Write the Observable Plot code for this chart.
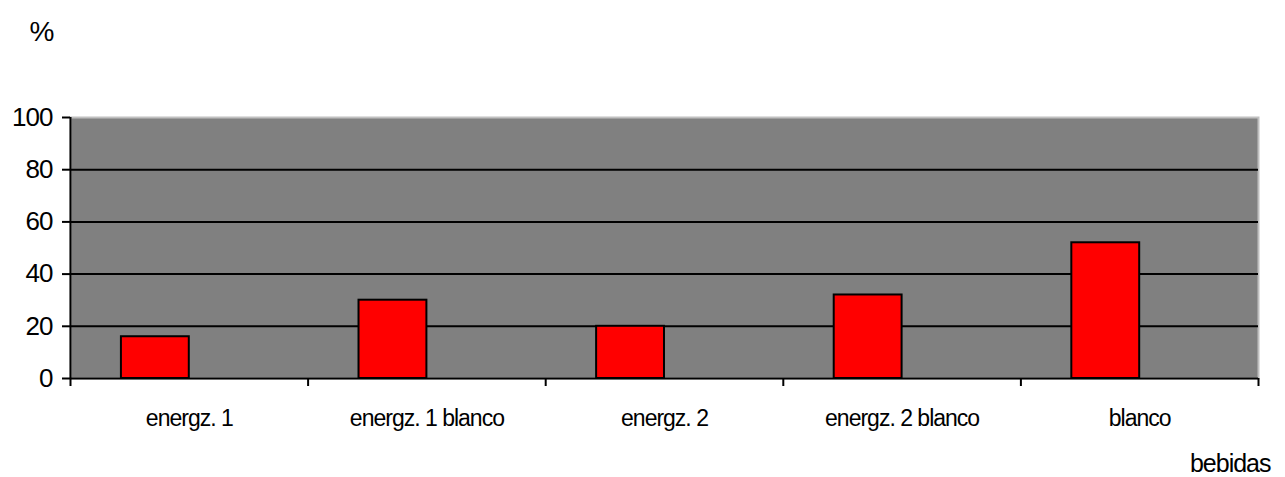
<!DOCTYPE html>
<html>
<head>
<meta charset="utf-8">
<script src="https://cdn.jsdelivr.net/npm/d3@7"></script>
<script src="https://cdn.jsdelivr.net/npm/@observablehq/plot@0.6"></script>
<style>
  html, body { margin: 0; padding: 0; background: white; }
  svg text { letter-spacing: -1px; }
</style>
</head>
<body>
<div id="chart"></div>
<script>
const categories = ["energz. 1", "energz. 1 blanco", "energz. 2", "energz. 2 blanco", "blanco"];
const values = [16, 30, 20, 32, 52];
const yTicks = [0, 20, 40, 60, 80, 100];
const gridTicks = [20, 40, 60, 80];
const yLabel = "%";
const xLabel = "bebidas";

const data = categories.map((c, i) => ({cat: c, i, value: values[i]}));

const W = 1285, H = 477;
const mL = 70, mR = 27, mT = 117, mB = 99;
const band = (W - mL - mR) / categories.length;
// Excel-style clustered layout: 2 series slots, gap width 150%
const barW = band / 3.5;
const inL = barW * 0.75;
const inR = band - inL - barW;

const chart = Plot.plot({
  width: W, height: H,
  marginLeft: mL, marginRight: mR, marginTop: mT, marginBottom: mB,
  x: {type: "linear", domain: [0, categories.length]},
  y: {domain: [0, 100]},
  style: {fontFamily: "'Liberation Sans', Arial, sans-serif", background: "white", color: "black"},
  marks: [
    Plot.frame({fill: "#808080", stroke: "#c0c0c0", strokeWidth: 2}),
    Plot.ruleY(gridTicks, {stroke: "black", strokeWidth: 2}),
    Plot.rectY(data, {x1: d => d.i, x2: d => d.i + 1, y: "value", fill: "#ff0000", stroke: "black", strokeWidth: 2, insetLeft: inL, insetRight: inR}),
    Plot.ruleX([0], {stroke: "black", strokeWidth: 2}),
    Plot.ruleY([0], {stroke: "black", strokeWidth: 2}),
    Plot.axisY({ticks: yTicks, tickSize: 8, tickPadding: 10, fontSize: 26, label: null, strokeWidth: 2}),
    Plot.axisX({ticks: d3.range(categories.length + 1), tickFormat: () => "", tickSize: 8, strokeWidth: 2, label: null}),
    Plot.axisX({ticks: categories.map((c, i) => i + 0.5), tickFormat: d => categories[Math.round(d - 0.5)], tickSize: 0, tickPadding: 31, fontSize: 23, label: null}),
    Plot.text([yLabel], {frameAnchor: "top-left", dx: -41, dy: -96, fontSize: 28, textAnchor: "start", lineAnchor: "top"}),
    Plot.text([xLabel], {frameAnchor: "bottom-right", dx: 12, dy: 93, fontSize: 25, textAnchor: "end", lineAnchor: "bottom"})
  ]
});
document.getElementById("chart").appendChild(chart);
</script>
</body>
</html>
